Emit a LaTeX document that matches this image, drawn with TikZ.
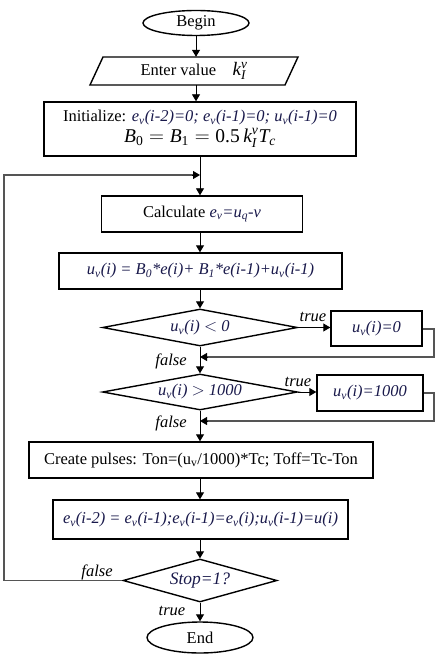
\documentclass[tikz,border=0pt]{standalone}
\usepackage{amsmath}
\usepackage{fontspec}
\setmainfont{Liberation Serif}
\usetikzlibrary{shapes.geometric,arrows.meta}
\definecolor{ink}{RGB}{25,25,75}
\definecolor{ln}{RGB}{85,85,85}
\newcommand{\vi}[1]{\textcolor{ink}{\itshape #1}}
\newcommand{\sub}[1]{\textsubscript{#1}}
\begin{document}
\begin{tikzpicture}[x=1pt,y=-1pt,
  font=\fontsize{16.5}{19}\selectfont,
  box/.style={draw, line width=1.4pt, rectangle, inner sep=0pt},
  oval/.style={draw, line width=1.4pt, ellipse, inner sep=0pt},
  dia/.style={draw, line width=1.4pt, diamond, inner sep=0pt, aspect=5},
  conn/.style={line width=0.9pt, -{Triangle[length=7pt,width=8pt]}},
  back/.style={line width=1.1pt, draw=ln},
  lbl/.style={font=\fontsize{16.5}{18}\selectfont\itshape, inner sep=0pt}]
\useasboundingbox (0,0) rectangle (442,660);
\fill[white] (0,0) rectangle (442,660);

% nodes
\node[oval, minimum width=106pt, minimum height=25pt] (begin) at (196,23) {Begin};
\node[minimum width=182pt, minimum height=28pt, inner sep=0pt] (enter) at (194,71) {Enter value\quad {\fontsize{19}{20}\selectfont$\textit{k}_{\textit{I}}^{\textit{v}}$}};
\draw[line width=1.4pt] (103,57) -- (298,57) -- (285,85) -- (90,85) -- cycle;
\node[box, minimum width=312pt, minimum height=54pt, align=center] (init) at (200,129)
  {Initialize: \vi{e\sub{v}(i-2)=0; e\sub{v}(i-1)=0; u\sub{v}(i-1)=0}\\[2pt]
   {\fontsize{19.5}{21}\selectfont $\textit{B}_{\text{0}} = \textit{B}_{\text{1}} = \text{0.5}\,\textit{k}_{\textit{I}}^{\textit{v}}\textit{T}_{\textit{c}}$}};
\coordinate (j1) at (200,175);
\node[box, minimum width=201pt, minimum height=36pt] (calc) at (202,214) {Calculate \vi{e\sub{v}=u\sub{q}-v}};
\node[box, minimum width=283pt, minimum height=36pt] (uv) at (200.5,271) {\vi{u\sub{v}(i) = B\sub{0}*e(i)+ B\sub{1}*e(i-1)+u\sub{v}(i-1)}};
\node[dia, minimum width=195pt, minimum height=37pt] (d1) at (200,327.5) {\vi{u\sub{v}(i) $<$ 0}};
\node[box, minimum width=91pt, minimum height=35pt] (b1) at (376.5,328.5) {\vi{u\sub{v}(i)=0}};
\coordinate (j2) at (200,357);
\coordinate (r1) at (434,329);
\node[dia, minimum width=195pt, minimum height=36pt] (d2) at (200,392) {\vi{u\sub{v}(i) $>$ 1000}};
\node[box, minimum width=106pt, minimum height=36pt] (b2) at (370,393) {\vi{u\sub{v}(i)=1000}};
\coordinate (j3) at (200,421);
\coordinate (r2) at (434,393);
\node[box, minimum width=344pt, minimum height=36pt] (pulse) at (201,460) {Create pulses: Ton=(u\sub{v}/1000)*Tc; Toff=Tc-Ton};
\node[box, minimum width=295pt, minimum height=39pt] (upd) at (200.5,519.5) {\vi{e\sub{v}(i-2) = e\sub{v}(i-1);e\sub{v}(i-1)=e\sub{v}(i);u\sub{v}(i-1)=u(i)}};
\node[dia, aspect=3.6, minimum width=154pt, minimum height=43pt] (stop) at (200,580.5) {\fontsize{17.5}{19}\selectfont\vi{Stop=1?}};
\node[oval, minimum width=106pt, minimum height=31pt] (end) at (200,637.5) {End};
\coordinate (l1) at (4,580.5);
\coordinate (l2) at (4,175);

% connectors
\draw[conn] (begin.south) -- (begin.south |- enter.north);
\draw[conn] (enter.south -| begin.south) -- (init.north -| begin.south);
\draw[conn] (init.south -| j1) -- (calc.north -| j1);
\draw[back] (stop.west) -- (l1) -- (l2) -- ([xshift=-6pt]j1);
\draw[conn] ([xshift=-8pt]j1) -- (j1);
\draw[conn] (calc.south -| j1) -- (uv.north -| j1);
\draw[conn] (uv.south -| j1) -- (d1.north);
\draw[conn] (d1.east) -- (b1.west |- d1.east);
\draw[back] (b1.east |- r1) -- (r1) -- (r1 |- j2) -- ([xshift=6pt]j2);
\draw[conn] ([xshift=8pt]j2) -- (j2);
\draw[conn] (d1.south) -- (d2.north);
\draw[conn] (d2.east) -- (b2.west |- d2.east);
\draw[back] (b2.east |- r2) -- (r2) -- (r2 |- j3) -- ([xshift=6pt]j3);
\draw[conn] ([xshift=8pt]j3) -- (j3);
\draw[conn] (d2.south) -- (pulse.north -| d2.south);
\draw[conn] (pulse.south -| j1) -- (upd.north -| j1);
\draw[conn] (upd.south -| j1) -- (stop.north);
\draw[conn] (stop.south) -- (end.north);

% labels
\node[lbl] (t1) at (313,317) {true};
\node[lbl] (f1) at (171,361) {false};
\node[lbl] (t2) at (298,382) {true};
\node[lbl] (f2) at (171,423) {false};
\node[lbl] (f3) at (97,572) {false};
\node[lbl] (t3) at (172,611) {true};
\end{tikzpicture}
\end{document}
